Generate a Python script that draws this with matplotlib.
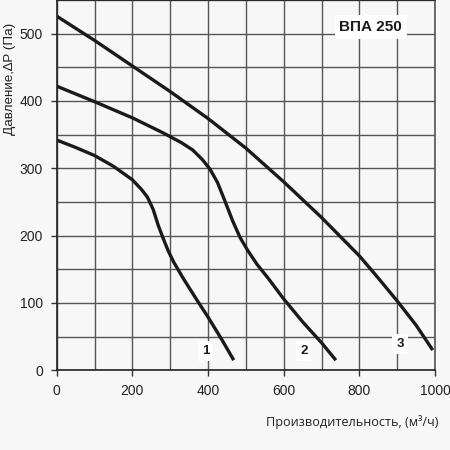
import matplotlib
matplotlib.use("Agg")
import matplotlib.pyplot as plt
from matplotlib.ticker import MultipleLocator

# Data
q1 = [0, 50, 100, 150, 200, 225, 240, 255, 268, 280, 295, 310, 335, 370, 400, 435, 468]
p1 = [342, 331, 319, 303, 283, 268, 257, 239, 216, 198, 177, 160, 136, 105, 79, 47, 15]
q2 = [0, 100, 200, 280, 330, 360, 385, 405, 425, 445, 465, 485, 505, 530, 560, 600, 650, 700, 738]
p2 = [422, 399, 375, 353, 338, 327, 313, 299, 279, 251, 222, 197, 178, 157, 136, 106, 72, 41, 15]
q3 = [0, 100, 200, 300, 400, 500, 600, 700, 800, 850, 900, 950, 994]
p3 = [526, 490, 452, 414, 374, 330, 280, 227, 170, 137, 103, 67, 30]
curve_labels = ["1", "2", "3"]
label_pos = [(393, 29), (653, 28), (908, 39)]
title = "ВПА 250"
xticks = [0, 200, 400, 600, 800, 1000]
yticks = [0, 100, 200, 300, 400, 500]

bg = "#f7f7f7"
fig = plt.figure(figsize=(4.5, 4.5), dpi=100, facecolor=bg)
ax = fig.add_axes([56.7/450, 79.7/450, 378.3/450, 370.3/450], facecolor=bg)
ax.set_xlim(0, 1000)
ax.set_ylim(0, 550)

ax.xaxis.set_minor_locator(MultipleLocator(100))
ax.yaxis.set_minor_locator(MultipleLocator(50))
ax.set_xticks(xticks)
ax.set_yticks(yticks)
ax.grid(True, which="both", color="#555555", linewidth=1.0)
ax.set_axisbelow(True)
ax.tick_params(which="minor", length=0)
ax.tick_params(which="major", length=4, width=1, color="#333333",
               labelsize=10, labelcolor="#222222", pad=6)
for lab in ax.get_xticklabels() + ax.get_yticklabels():
    lab.set_family("Liberation Sans")

for s in ax.spines.values():
    s.set_color("#222222")
    s.set_linewidth(1.2)
ax.spines["right"].set_color("#555555")

for q, p in [(q1, p1), (q2, p2), (q3, p3)]:
    ax.plot(q, p, color="#1a1a1a", linewidth=2.4, solid_capstyle="butt",
            solid_joinstyle="round")

for lab, (x, y) in zip(curve_labels, label_pos):
    ax.text(x, y, lab, fontsize=9.5, fontweight="bold", family="Liberation Sans",
            ha="center", va="center", color="#1a1a1a",
            bbox=dict(boxstyle="square,pad=0.3", fc="white", ec="none"))

ax.text(830, 510, title, fontsize=11, fontweight="bold", family="Liberation Sans",
        ha="center", va="center", color="#1a1a1a",
        bbox=dict(boxstyle="square,pad=0.3", fc="white", ec="none"))

fig.text(10/450, 1 - 79/450, "Давление,∆P (Па)", rotation=90, ha="center",
         va="center", fontsize=9.7, family="Liberation Sans", color="#222222")
fig.text(439/450, 1 - 422/450, "Производительность, (м³/ч)", ha="right",
         va="center", fontsize=9.1, family="Open Sans", color="#222222")

fig.savefig("out.png", dpi=100, facecolor=bg)
